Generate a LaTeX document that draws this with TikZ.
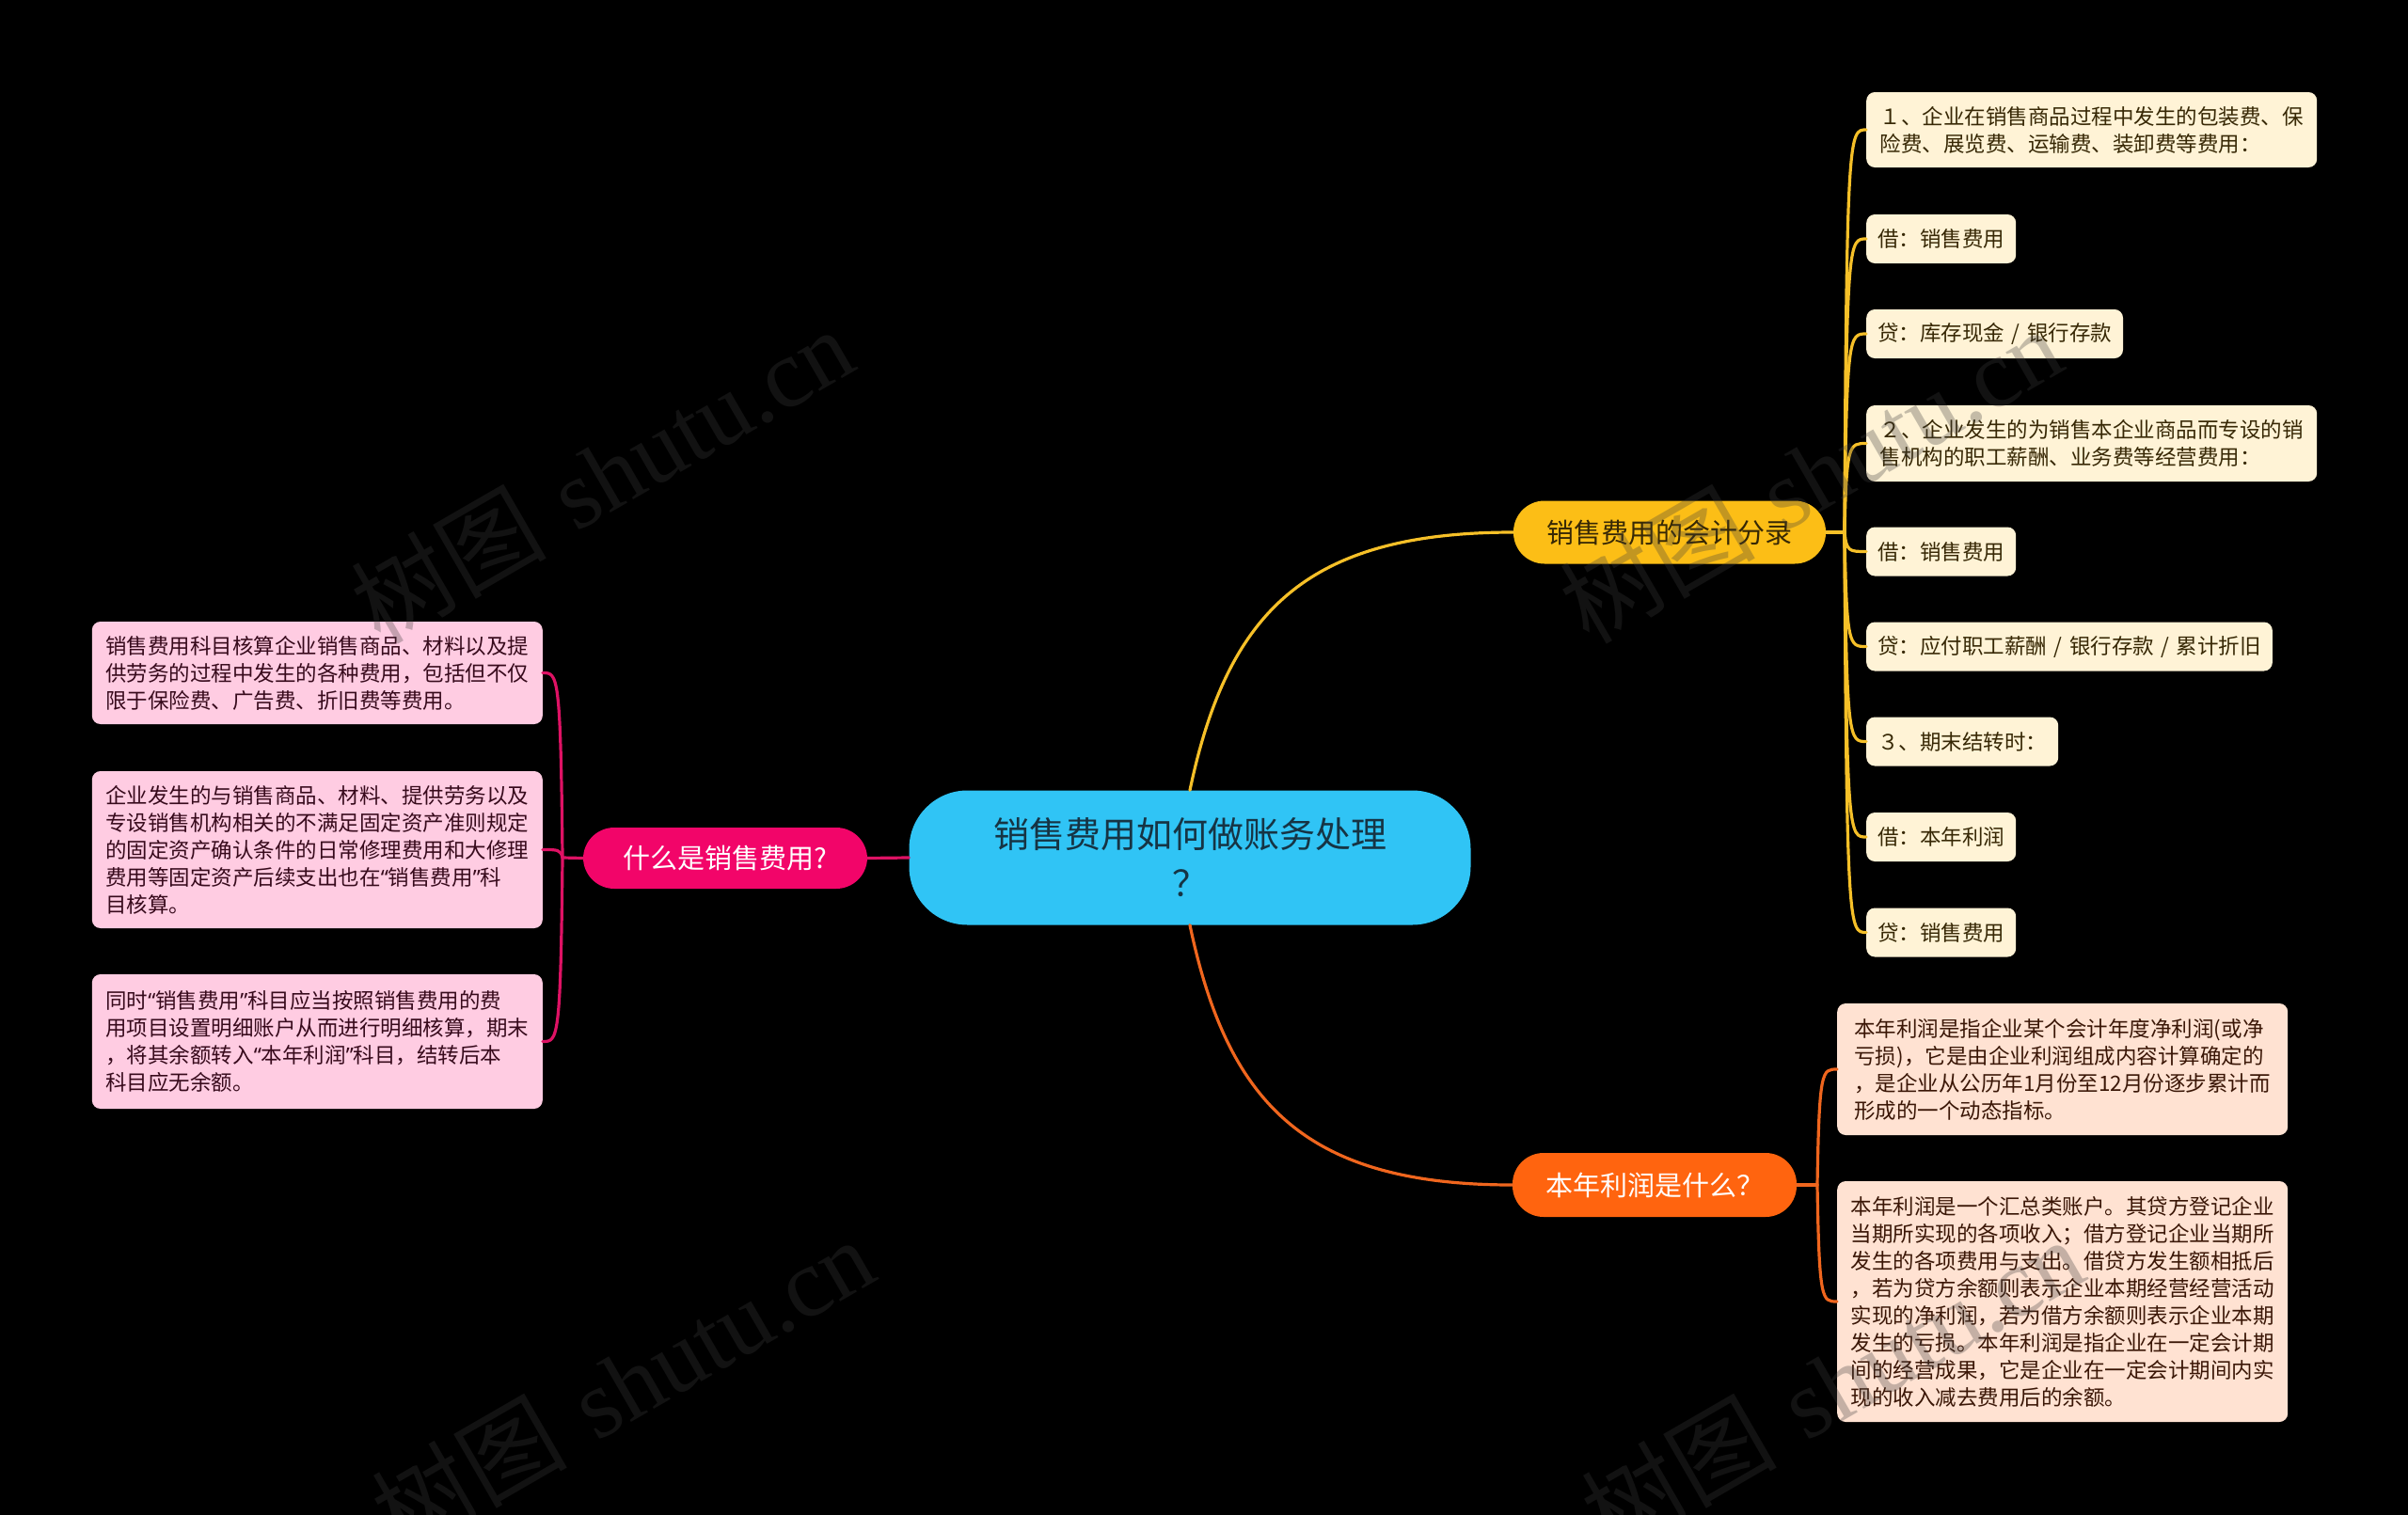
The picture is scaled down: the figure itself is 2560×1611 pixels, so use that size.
\documentclass[tikz,border=0pt]{standalone}
\usepackage{fontspec}
\usetikzlibrary{calc}
\newfontfamily\cjk{Noto Sans CJK SC}
\newfontfamily\qf{Noto Sans}
\newfontfamily\wmserif{Liberation Serif}
\newcommand{\myLQ}{{\qf “}}
\newcommand{\myRQ}{{\qf ”}}
\newcommand{\mysl}{\hspace{7.5pt}/\hspace{7.5pt}}
\definecolor{bg}{RGB}{0,0,0}
\definecolor{cfill}{RGB}{48,196,245}
\definecolor{ctext}{RGB}{22,52,68}
\definecolor{pmain}{RGB}{242,5,105}
\definecolor{pleaf}{RGB}{255,204,226}
\definecolor{ptext}{RGB}{55,10,28}
\definecolor{pline}{RGB}{222,18,100}
\definecolor{ymain}{RGB}{252,190,22}
\definecolor{yleaf}{RGB}{255,243,214}
\definecolor{ytext}{RGB}{55,40,5}
\definecolor{yline}{RGB}{246,192,40}
\definecolor{omain}{RGB}{255,100,15}
\definecolor{oleaf}{RGB}{255,226,210}
\definecolor{otext}{RGB}{58,22,6}
\definecolor{oline}{RGB}{240,102,30}
\definecolor{wmc}{RGB}{60,60,60}
\tikzset{
  leafbase/.style={rounded corners=9, inner xsep=12, inner ysep=0, minimum height=52,
    font=\cjk\fontsize{22.5}{29}\selectfont, align=left},
  leafY/.style={leafbase, fill=yleaf, text=ytext, anchor=west},
  leafO/.style={leafbase, fill=oleaf, text=otext, anchor=west, minimum width=479},
  leafP/.style={leafbase, fill=pleaf, text=ptext, anchor=east, minimum width=479},
  mainbox/.style={rounded corners=33, minimum height=67, inner xsep=10, inner ysep=0,
    font=\cjk\fontsize{29}{34}\selectfont},
  conY/.style={draw=yline, line width=3.2, line cap=round},
  conO/.style={draw=oline, line width=3.2, line cap=round},
  conP/.style={draw=pline, line width=3.2, line cap=round},
  wmark/.style={text=wmc, opacity=0.3, rotate=30, font=\fontsize{104}{110}\selectfont}
}
\begin{document}
\begin{tikzpicture}[x=1pt,y=-1pt]
\fill[bg] (0,0) rectangle (2560,1611);
\useasboundingbox (0,0) rectangle (2560,1611);

% central
\node[fill=cfill, text=ctext, rounded corners=62, minimum width=597, minimum height=143,
  inner sep=0, align=center, font=\cjk\fontsize{38}{52}\selectfont] (c) at (1265,912)
  {销售费用如何做账务处理\\？};

% main branches
\node[mainbox, fill=pmain, text=white, minimum width=302, minimum height=65] (pm) at (771,912.5) {什么是销售费用?};
\node[mainbox, fill=ymain, text=ytext, minimum width=332] (ym) at (1775,566) {销售费用的会计分录};
\node[mainbox, fill=omain, text=white, minimum width=302, minimum height=68] (om) at (1759,1260) {本年利润是什么？};

% right yellow leaves
\node[leafY, minimum width=479, minimum height=80] (r1) at (1984,138) {１、企业在销售商品过程中发生的包装费、保\\险费、展览费、运输费、装卸费等费用：};
\node[leafY] (r2) at (1984,254) {借：销售费用};
\node[leafY] (r3) at (1984,355) {贷：库存现金\mysl 银行存款};
\node[leafY, minimum width=479, minimum height=81] (r4) at (1984,471.5) {２、企业发生的为销售本企业商品而专设的销\\售机构的职工薪酬、业务费等经营费用：};
\node[leafY] (r5) at (1984,586.5) {借：销售费用};
\node[leafY] (r6) at (1984,687.5) {贷：应付职工薪酬\mysl 银行存款\mysl 累计折旧};
\node[leafY] (r7) at (1984,788.5) {３、期末结转时：};
\node[leafY] (r8) at (1984,890) {借：本年利润};
\node[leafY] (r9) at (1984,991.5) {贷：销售费用};

% orange leaves
\node[leafO, minimum height=140] (o1) at (1953,1137) {本年利润是指企业某个会计年度净利润(或净\\亏损)，它是由企业利润组成内容计算确定的\\，是企业从公历年1月份至12月份逐步累计而\\形成的一个动态指标。};
\node[leafO, minimum height=256] (o2) at (1953,1384) {本年利润是一个汇总类账户。其贷方登记企业\\当期所实现的各项收入；借方登记企业当期所\\发生的各项费用与支出。借贷方发生额相抵后\\，若为贷方余额则表示企业本期经营经营活动\\实现的净利润，若为借方余额则表示企业本期\\发生的亏损。本年利润是指企业在一定会计期\\间的经营成果，它是企业在一定会计期间内实\\现的收入减去费用后的余额。};

% pink leaves
\node[leafP, minimum height=109] (l1) at (577,715.5) {销售费用科目核算企业销售商品、材料以及提\\供劳务的过程中发生的各种费用，包括但不仅\\限于保险费、广告费、折旧费等费用。};
\node[leafP, minimum height=167] (l2) at (577,903.5) {企业发生的与销售商品、材料、提供劳务以及\\专设销售机构相关的不满足固定资产准则规定\\的固定资产确认条件的日常修理费用和大修理\\费用等固定资产后续支出也在\myLQ 销售费用\myRQ 科\\目核算。};
\node[leafP, minimum height=143] (l3) at (577,1107.5) {同时\myLQ 销售费用\myRQ 科目应当按照销售费用的费\\用项目设置明细账户从而进行明细核算，期末\\，将其余额转入\myLQ 本年利润\myRQ 科目，结转后本\\科目应无余额。};

% main connectors
\draw[conY] (c.north) .. controls +(40,-190) and +(-220,0) .. (ym.west);
\draw[conO] (c.south) .. controls +(40,190) and +(-220,0) .. (om.west);
\draw[conP] (c.west) -- (pm.east);

% yellow fan
\coordinate (jy) at (1961,566);
\draw[conY] (ym.east) -- (jy);
\foreach \n in {r1,r2,r3,r4,r5,r6,r7,r8,r9}{
  \draw[conY] (jy) .. controls ($(jy|-\n.west)+(2,0)$) and ($(jy|-\n.west)+(5,0)$) .. (\n.west);
}
% orange fan
\coordinate (jo) at (1932,1260);
\draw[conO] (om.east) -- (jo);
\foreach \n in {o1,o2}{
  \draw[conO] (jo) .. controls ($(jo|-\n.west)+(2,0)$) and ($(jo|-\n.west)+(5,0)$) .. (\n.west);
}
% pink fan
\coordinate (jp) at (598,912);
\draw[conP] (pm.west) -- (jp);
\foreach \n in {l1,l2,l3}{
  \draw[conP] (jp) .. controls ($(jp|-\n.east)+(-2,0)$) and ($(jp|-\n.east)+(-5,0)$) .. (\n.east);
}

% watermarks
\node[wmark] (w1) at (640,505) {{\cjk 树图} {\wmserif shutu.cn}};
\node[wmark] (w2) at (1925,505) {{\cjk 树图} {\wmserif shutu.cn}};
\node[wmark] (w3) at (662,1472) {{\cjk 树图} {\wmserif shutu.cn}};
\node[wmark] (w4) at (1948,1472) {{\cjk 树图} {\wmserif shutu.cn}};
\end{tikzpicture}
\end{document}
